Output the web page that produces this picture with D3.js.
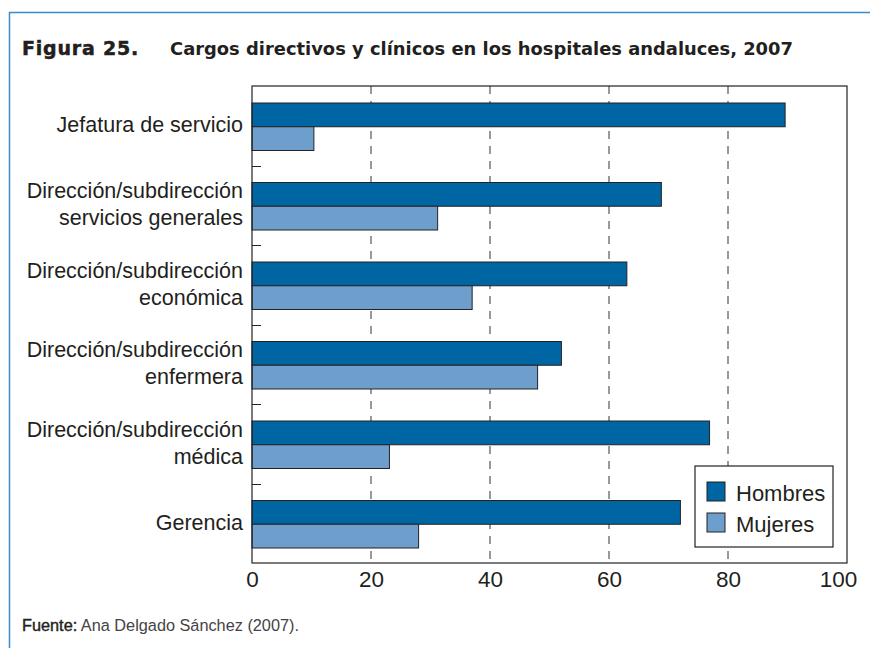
<!DOCTYPE html>
<html lang="es">
<head>
  <meta charset="utf-8">
  <title>Figura 25</title>
  <script src="https://d3js.org/d3.v7.min.js"></script>
  <style>
    body { margin: 0; background: #fff; }
    text { font-family: "Liberation Sans", Arial, sans-serif; fill: #231f20; }
  </style>
</head>
<body>
<script>
// data (% of posts)
var categories = [
  ["Jefatura de servicio"],
  ["Dirección/subdirección", "servicios generales"],
  ["Dirección/subdirección", "económica"],
  ["Dirección/subdirección", "enfermera"],
  ["Dirección/subdirección", "médica"],
  ["Gerencia"]
];
var hombres = [89.6, 68.8, 63, 52, 76.9, 72];
var mujeres = [10.4, 31.2, 37, 48, 23.1, 28];
var seriesNames = ["Hombres", "Mujeres"];
var seriesColors = ["#0066a3", "#6e9fcc"];
var xTicks = [0, 20, 40, 60, 80, 100];

var w = 870, h = 648;
var pL = 252, pR = 847, pT = 86, pB = 563;

var svg = d3.select("body").append("svg")
  .attr("width", w)
  .attr("height", h);

// blue frame (top and left edge)
svg.append("path")
  .attr("d", "M9.5," + h + "V12.5H" + w)
  .attr("fill", "none")
  .attr("stroke", "#3a8cc6")
  .attr("stroke-width", 1.5);

// title
var title = svg.append("text")
  .attr("x", 22)
  .attr("y", 55)
  .style("font-family", "'DejaVu Sans', sans-serif")
  .style("font-size", "17.9px")
  .style("font-weight", "bold");
title.append("tspan").text("Figura 25.")
  .style("font-size", "19px").style("letter-spacing", "0.8px")
  .style("stroke", "#231f20").style("stroke-width", "0.5px");
title.append("tspan").attr("x", 170).text("Cargos directivos y clínicos en los hospitales andaluces, 2007");

var x = d3.scaleLinear().domain([0, 100]).range([pL, pR]);
var y = d3.scaleBand().domain(d3.range(categories.length)).range([pT, pB]);
var inner = d3.scaleBand().domain([0, 1]).range([17, y.bandwidth() - 15]);

// dashed grid
svg.selectAll("line.grid")
  .data(xTicks.slice(1, -1))
  .enter().append("line")
  .attr("class", "grid")
  .attr("x1", d => x(d)).attr("x2", d => x(d))
  .attr("y1", pT).attr("y2", pB)
  .attr("stroke", "#333")
  .attr("stroke-width", 1)
  .attr("stroke-dasharray", "8,7");

// bars
var data = categories.map(function(c, i) { return [hombres[i], mujeres[i]]; });
var groups = svg.selectAll("g.cat")
  .data(data)
  .enter().append("g")
  .attr("transform", (d, i) => "translate(0," + y(i) + ")");

groups.selectAll("rect")
  .data(d => d)
  .enter().append("rect")
  .attr("x", x(0))
  .attr("y", (d, j) => inner(j))
  .attr("width", d => x(d) - x(0))
  .attr("height", inner.bandwidth())
  .attr("fill", (d, j) => seriesColors[j])
  .attr("stroke", "#222")
  .attr("stroke-width", 1);

// category labels
groups.append("text")
  .attr("text-anchor", "end")
  .attr("x", pL - 9)
  .style("font-size", "21.5px")
  .each(function(d, i) {
    var lines = categories[i];
    var t = d3.select(this);
    var y0 = y.bandwidth() / 2 - (lines.length - 1) * 13.5 - 1;
    lines.forEach(function(l, k) {
      t.append("tspan").attr("x", pL - 9).attr("y", y0 + k * 27)
        .attr("dy", "0.35em").text(l);
    });
  });

// separators on left axis
svg.selectAll("line.sep")
  .data(d3.range(1, categories.length))
  .enter().append("line")
  .attr("class", "sep")
  .attr("x1", pL).attr("x2", pL + 9)
  .attr("y1", d => Math.round(y(d)) + 0.5)
  .attr("y2", d => Math.round(y(d)) + 0.5)
  .attr("stroke", "#222");

// plot frame
svg.append("rect")
  .attr("x", pL).attr("y", pT)
  .attr("width", pR - pL).attr("height", pB - pT)
  .attr("fill", "none")
  .attr("stroke", "#222")
  .attr("stroke-width", 1.2);

// x axis
var xAxis = svg.append("g")
  .attr("transform", "translate(0," + pB + ")")
  .call(d3.axisBottom(x).tickValues(xTicks).tickSize(0).tickPadding(8));
xAxis.select(".domain").remove();
xAxis.selectAll("text")
  .style("font-size", "22.5px")
  .style("font-family", "'Liberation Sans', Arial, sans-serif")
  .attr("fill", "#231f20")
  .attr("dx", d => d === 100 ? -9 : 0);

// legend
var lg = svg.append("g").attr("transform", "translate(695,466)");
lg.append("rect")
  .attr("width", 138).attr("height", 81)
  .attr("fill", "#fff").attr("stroke", "#222").attr("stroke-width", 1.2);
seriesNames.forEach(function(n, j) {
  lg.append("rect")
    .attr("x", 12).attr("y", 16 + j * 31)
    .attr("width", 18).attr("height", 19)
    .attr("fill", seriesColors[j]).attr("stroke", "#222");
  lg.append("text")
    .attr("x", 41).attr("y", 27 + j * 31)
    .attr("dy", "0.35em")
    .style("font-size", "22px")
    .text(n);
});

// source
var src = svg.append("text").attr("x", 22).attr("y", 631).style("font-size", "16.3px");
src.append("tspan").text("Fuente:")
  .style("fill", "#231f20").style("stroke", "#231f20").style("stroke-width", "0.4px");
src.append("tspan").text(" Ana Delgado Sánchez (2007).").style("fill", "#444");
</script>
</body>
</html>
